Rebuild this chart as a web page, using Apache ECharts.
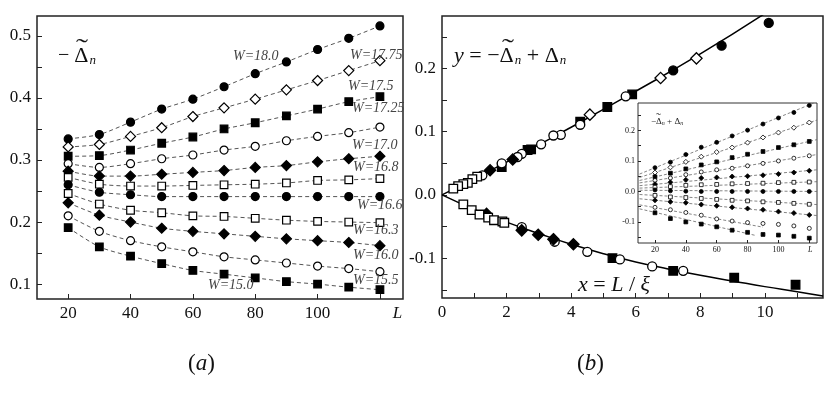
<!DOCTYPE html>
<html>
<head>
<meta charset="utf-8">
<script src="https://cdn.jsdelivr.net/npm/echarts@6/dist/echarts.min.js"></script>
<style>
html, body { margin: 0; padding: 0; background: #fff; }
#chart { width: 830px; height: 395px; }
</style>
</head>
<body>
<div id="chart"></div>
<script>
// ---- panel (a): -Delta~_n against L, one row per W ----
const sizesL = [20, 30, 40, 50, 60, 70, 80, 90, 100, 110, 120];
const wNames = ['W=18.0', 'W=17.75', 'W=17.5', 'W=17.25', 'W=17.0', 'W=16.8', 'W=16.6', 'W=16.3', 'W=16.0', 'W=15.5', 'W=15.0'];
const a180 = [0.334, 0.341, 0.361, 0.382, 0.398, 0.418, 0.439, 0.458, 0.478, 0.496, 0.516];
const a1775 = [0.321, 0.325, 0.338, 0.352, 0.370, 0.384, 0.398, 0.413, 0.428, 0.444, 0.460];
const a175 = [0.306, 0.307, 0.316, 0.327, 0.337, 0.350, 0.360, 0.371, 0.382, 0.394, 0.402];
const a1725 = [0.294, 0.288, 0.294, 0.302, 0.308, 0.316, 0.322, 0.331, 0.338, 0.344, 0.353];
const a170 = [0.282, 0.274, 0.274, 0.277, 0.280, 0.283, 0.288, 0.291, 0.297, 0.302, 0.306];
const a168 = [0.272, 0.261, 0.258, 0.258, 0.259, 0.260, 0.261, 0.263, 0.267, 0.268, 0.270];
const a166 = [0.260, 0.248, 0.244, 0.241, 0.241, 0.241, 0.241, 0.241, 0.241, 0.241, 0.241];
const a163 = [0.246, 0.229, 0.219, 0.215, 0.210, 0.209, 0.206, 0.203, 0.201, 0.200, 0.199];
const a160 = [0.231, 0.211, 0.200, 0.190, 0.185, 0.181, 0.177, 0.173, 0.170, 0.167, 0.162];
const a155 = [0.210, 0.185, 0.170, 0.160, 0.152, 0.144, 0.139, 0.134, 0.129, 0.125, 0.120];
const a150 = [0.191, 0.160, 0.145, 0.133, 0.122, 0.116, 0.110, 0.104, 0.100, 0.095, 0.091];
const aYLabels = [0.1, 0.2, 0.3, 0.4, 0.5];
const aYTicks = [0.1, 0.15, 0.2, 0.25, 0.3, 0.35, 0.4, 0.45, 0.5];
const aXLabels = [20, 40, 60, 80, 100];

// ---- panel (b): collapse onto y(x), x = L/xi ----
const upperFitX = [0, 2, 4, 6, 8, 10];
const upperFitY = [0, 0.052, 0.107, 0.164, 0.223, 0.287];
const lowerFitX = [0, 1, 2, 3, 4, 5, 6, 7, 8, 9, 10, 11, 11.8];
const lowerFitY = [0, -0.023, -0.043, -0.061, -0.078, -0.093, -0.106, -0.117, -0.127, -0.136, -0.145, -0.153, -0.160];
const bFilledCircle = [[10.12, 0.272], [8.66, 0.236], [7.16, 0.197]];
const bOpenDiamond = [[7.88, 0.216], [6.77, 0.185], [4.58, 0.127]];
const bFilledSquare = [[5.89, 0.159], [5.12, 0.139], [4.28, 0.116], [2.76, 0.072], [2.65, 0.071], [1.85, 0.044],
  [5.28, -0.100], [7.16, -0.120], [9.05, -0.131], [10.95, -0.142]];
const bOpenCircle = [[5.69, 0.156], [4.28, 0.111], [3.68, 0.095], [3.45, 0.094], [3.07, 0.080], [2.47, 0.065],
  [2.34, 0.060], [1.85, 0.050], [1.25, 0.031],
  [2.47, -0.051], [3.49, -0.074], [4.50, -0.090], [5.51, -0.102], [6.51, -0.113], [7.47, -0.120]];
const bFilledDiamond = [[2.19, 0.056], [1.49, 0.039],
  [1.38, -0.030], [2.47, -0.056], [2.98, -0.063], [3.45, -0.070], [4.07, -0.078]];
const bOpenSquare = [[1.09, 0.029], [0.94, 0.025], [0.80, 0.019], [0.66, 0.017], [0.50, 0.014], [0.35, 0.010],
  [0.66, -0.015], [0.92, -0.024], [1.16, -0.031], [1.43, -0.036], [1.61, -0.040], [1.87, -0.042], [1.93, -0.044]];
const bYLabels = [-0.1, 0, 0.1, 0.2];
const bYTicks = [-0.15, -0.1, -0.05, 0, 0.05, 0.1, 0.15, 0.2, 0.25];
const bXLabels = [0, 2, 4, 6, 8, 10];
const bXTicks = [1, 2, 3, 4, 5, 6, 7, 8, 9, 10, 11];

// ---- inset: -Delta~_n + Delta_n against L ----
const i180 = [0.078, 0.096, 0.121, 0.145, 0.161, 0.182, 0.201, 0.221, 0.241, 0.259, 0.282];
const i1775 = [0.062, 0.079, 0.097, 0.114, 0.129, 0.144, 0.160, 0.177, 0.193, 0.209, 0.226];
const i175 = [0.048, 0.060, 0.074, 0.087, 0.097, 0.111, 0.122, 0.131, 0.144, 0.153, 0.164];
const i1725 = [0.036, 0.044, 0.055, 0.064, 0.071, 0.076, 0.084, 0.092, 0.100, 0.109, 0.117];
const i170 = [0.024, 0.030, 0.038, 0.044, 0.046, 0.049, 0.050, 0.053, 0.057, 0.062, 0.068];
const i168 = [0.014, 0.016, 0.020, 0.022, 0.023, 0.025, 0.026, 0.027, 0.029, 0.030, 0.031];
const i166 = [0.005, 0.002, 0.001, 0.000, 0.000, 0.000, 0.000, 0.000, 0.000, 0.000, 0.000];
const i163 = [-0.013, -0.018, -0.020, -0.023, -0.026, -0.029, -0.031, -0.034, -0.036, -0.039, -0.042];
const i160 = [-0.029, -0.034, -0.037, -0.043, -0.047, -0.052, -0.056, -0.060, -0.066, -0.071, -0.077];
const i155 = [-0.052, -0.060, -0.069, -0.078, -0.090, -0.097, -0.102, -0.105, -0.108, -0.113, -0.121];
const i150 = [-0.070, -0.089, -0.100, -0.107, -0.116, -0.127, -0.134, -0.141, -0.143, -0.147, -0.153];
// dashed straight fits in the inset: [L start, value], [L end, value]
const iFits = [
  [[10, 0.057], [123, 0.290]], [[10, 0.046], [125, 0.234]], [[10, 0.036], [125, 0.170]],
  [[10, 0.028], [125, 0.121]], [[10, 0.019], [125, 0.071]], [[10, 0.011], [125, 0.032]],
  [[10, 0.004], [125, 0.000]], [[10, -0.010], [125, -0.043]], [[10, -0.024], [125, -0.079]],
  [[10, -0.044], [90, -0.117]], [[10, -0.057], [85, -0.144]]
];
const iYLabels = [-0.1, 0, 0.1, 0.2];
const iYTicks = [-0.15, -0.1, -0.05, 0, 0.05, 0.1, 0.15, 0.2, 0.25];
const iXLabels = [20, 40, 60, 80, 100];

// marker per W row (same in both panels)
const rowSymbol = ['circle', 'diamond', 'rect', 'circle', 'diamond', 'rect', 'circle', 'rect', 'diamond', 'circle', 'rect'];
const rowFilled = [true, false, true, false, true, false, true, false, true, false, true];
const aRows = [a180, a1775, a175, a1725, a170, a168, a166, a163, a160, a155, a150];
const iRows = [i180, i1775, i175, i1725, i170, i168, i166, i163, i160, i155, i150];

// where the W=.. tags sit in panel (a), pixels
const wTagPos = [[233, 57], [350, 56], [348, 87], [352, 109], [352, 146], [353, 168],
  [357, 206], [353, 231], [353, 256], [353, 281], [208, 286]];

const serif = 'Liberation Serif';
const ink = '#111';

function symSize(sym, base) {
  if (sym === 'diamond') return base * 1.25;
  if (sym === 'rect') return base * 0.95;
  return base;
}

function valueAxis(gi, min, max, labels, ticks, fontSize, extra) {
  const ax = {
    type: 'value', gridIndex: gi, min: min, max: max,
    splitLine: { show: false },
    axisLine: { show: false, onZero: false },
    axisTick: { show: true, inside: true, length: fontSize > 10 ? 5 : 3, customValues: ticks,
      lineStyle: { color: '#222', width: 1 } },
    axisLabel: {
      customValues: labels, fontFamily: serif, fontSize: fontSize, color: ink,
      margin: fontSize > 10 ? 6 : 3,
      formatter: v => (Math.abs(v) < 1e-9 ? '0.0' : v.toFixed(1)),
      rich: { i: { fontFamily: serif, fontStyle: 'italic', fontSize: fontSize } }
    }
  };
  return Object.assign(ax, extra || {});
}

const chart = echarts.init(document.getElementById('chart'), null, { renderer: 'canvas' });

const series = [];

// panel (a)
aRows.forEach((row, k) => {
  series.push({
    name: wNames[k], type: 'line', xAxisIndex: 0, yAxisIndex: 0,
    data: sizesL.map((L, j) => [L, row[j]]),
    smooth: 0.25,
    symbol: rowSymbol[k], symbolSize: symSize(rowSymbol[k], 8),
    itemStyle: { color: rowFilled[k] ? '#000' : '#fff', borderColor: '#000', borderWidth: 1.2 },
    lineStyle: { color: '#555', width: 1, type: [4, 3] },
    z: 3
  });
});

// panel (b) fits
series.push({
  type: 'line', xAxisIndex: 1, yAxisIndex: 1, showSymbol: false, smooth: true,
  data: upperFitX.map((x, j) => [x, upperFitY[j]]),
  lineStyle: { color: '#000', width: 1.5 }, z: 2
});
series.push({
  type: 'line', xAxisIndex: 1, yAxisIndex: 1, showSymbol: false, smooth: true,
  data: lowerFitX.map((x, j) => [x, lowerFitY[j]]),
  lineStyle: { color: '#000', width: 1.5 }, z: 2
});

const bGroups = [
  [bFilledCircle, 'circle', true], [bOpenDiamond, 'diamond', false], [bFilledSquare, 'rect', true],
  [bOpenCircle, 'circle', false], [bFilledDiamond, 'diamond', true], [bOpenSquare, 'rect', false]
];
bGroups.forEach(g => {
  series.push({
    type: 'scatter', xAxisIndex: 1, yAxisIndex: 1, data: g[0],
    symbol: g[1], symbolSize: symSize(g[1], 9),
    itemStyle: { color: g[2] ? '#000' : '#fff', borderColor: '#000', borderWidth: 1.3, opacity: 1 },
    z: 4
  });
});

// inset
iFits.forEach(f => {
  series.push({
    type: 'line', xAxisIndex: 2, yAxisIndex: 2, showSymbol: false, data: f,
    lineStyle: { color: '#666', width: 0.8, type: [3, 2] }, z: 11
  });
});
iRows.forEach((row, k) => {
  series.push({
    type: 'scatter', xAxisIndex: 2, yAxisIndex: 2,
    data: sizesL.map((L, j) => [L, row[j]]),
    symbol: rowSymbol[k], symbolSize: symSize(rowSymbol[k], 4),
    itemStyle: { color: rowFilled[k] ? '#000' : '#fff', borderColor: '#000', borderWidth: 0.8, opacity: 1 },
    z: 12
  });
});

const lAxisFmt = v => (v > 110 ? '{i|L}' : String(v));

const option = {
  animation: false,
  backgroundColor: '#fff',
  grid: [
    { left: 37, right: 427, top: 16, bottom: 96, show: true, borderColor: '#222', borderWidth: 1.5, backgroundColor: '#fff' },
    { left: 442, right: 7, top: 16, bottom: 97, show: true, borderColor: '#222', borderWidth: 1.5, backgroundColor: '#fff' },
    { left: 638, right: 13, top: 103, bottom: 152, show: true, borderColor: '#333', borderWidth: 1, backgroundColor: '#fff', z: 10 }
  ],
  xAxis: [
    valueAxis(0, 10, 127.4, aXLabels.concat([125.6]), aXLabels.concat([120]), 17),
    valueAxis(1, 0, 11.8, bXLabels, bXTicks, 17),
    valueAxis(2, 9, 125, iXLabels.concat([120.6]), iXLabels.concat([120]), 8, { z: 10 })
  ],
  yAxis: [
    valueAxis(0, 0.076, 0.532, aYLabels, aYTicks, 17),
    valueAxis(1, -0.163, 0.283, bYLabels, bYTicks, 17),
    valueAxis(2, -0.169, 0.29, iYLabels, iYTicks, 8, { z: 10 })
  ],
  series: series,
  graphic: []
};
option.xAxis.forEach(ax => {
  ax.axisLabel.formatter = ax.gridIndex === 1 ? (v => String(v)) : lAxisFmt;
});

const texts = [];
wNames.forEach((nm, k) => {
  texts.push({
    type: 'text', left: wTagPos[k][0], top: wTagPos[k][1] - 8,
    style: { text: nm, font: 'italic 14px "Liberation Serif"', fill: '#444' }, z: 20
  });
});

// a wide tilde accent drawn over a Delta
function tilde(x, y, size) {
  return {
    type: 'text', x: x, y: y, scaleX: 1.5,
    style: { text: '\u02DC', font: size + 'px "Liberation Serif"', fill: ink }, z: 21
  };
}
const sub = { fontFamily: serif, fontStyle: 'italic', fontSize: 13, padding: [10, 0, 0, 1] };
texts.push({
  type: 'text', left: 58, top: 45,
  style: {
    text: '{m|\u2212 }{d|\u0394}{s|n}',
    rich: { m: { fontFamily: serif, fontSize: 20 }, d: { fontFamily: serif, fontSize: 22 }, s: sub },
    fill: ink
  }, z: 20
});
texts.push(tilde(76, 37, 24));
texts.push({
  type: 'text', left: 454, top: 45,
  style: {
    text: '{i|y} = \u2212{d|\u0394}{s|n} + {d|\u0394}{s|n}',
    font: '22px "Liberation Serif"',
    rich: { i: { fontFamily: serif, fontStyle: 'italic', fontSize: 22 }, d: { fontFamily: serif, fontSize: 22 }, s: sub },
    fill: ink
  }, z: 20
});
texts.push(tilde(502, 37, 24));
texts.push({
  type: 'text', left: 578, top: 274,
  style: {
    text: '{i|x} = {i|L} / {i|\u03BE}',
    font: '22px "Liberation Serif"',
    rich: { i: { fontFamily: serif, fontStyle: 'italic', fontSize: 22 } },
    fill: ink
  }, z: 20
});
texts.push({
  type: 'text', left: 651, top: 117,
  style: {
    text: '\u2212\u0394{s|n} + \u0394{s|n}',
    font: '9px "Liberation Serif"',
    rich: { s: { fontFamily: serif, fontStyle: 'italic', fontSize: 6, padding: [4, 0, 0, 0] } },
    fill: '#222'
  }, z: 20
});
texts.push(tilde(656, 113, 10));
texts.push({
  type: 'text', left: 188, top: 352,
  style: { text: '({i|a})', font: '23px "Liberation Serif"',
    rich: { i: { fontFamily: serif, fontStyle: 'italic', fontSize: 23 } }, fill: ink }
});
texts.push({
  type: 'text', left: 577, top: 352,
  style: { text: '({i|b})', font: '23px "Liberation Serif"',
    rich: { i: { fontFamily: serif, fontStyle: 'italic', fontSize: 23 } }, fill: ink }
});
option.graphic = texts;

chart.setOption(option);
</script>
</body>
</html>
